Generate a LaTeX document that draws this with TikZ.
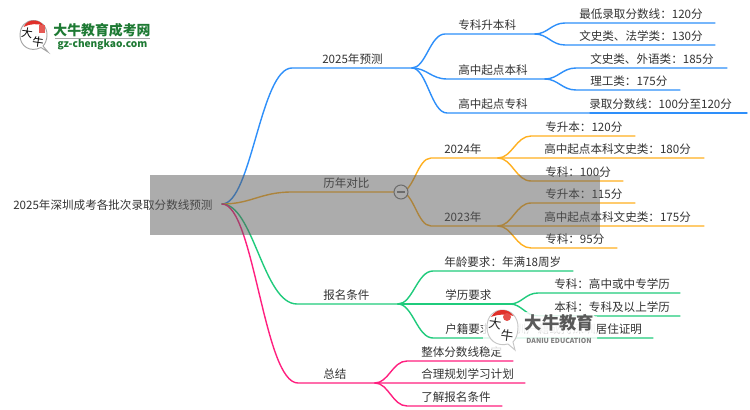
\documentclass[tikz,border=0pt]{standalone}
\usepackage{fontspec}
\usetikzlibrary{calc}
\setmainfont{Noto Sans CJK SC}
\definecolor{cblue}{HTML}{2E8FFA}
\definecolor{camber}{HTML}{FFB020}
\definecolor{cgreen}{HTML}{1FCB7C}
\definecolor{cpink}{HTML}{FF1F7F}
\definecolor{ctext}{HTML}{333333}
\definecolor{logogreen}{HTML}{1E7A34}
\definecolor{logored}{HTML}{E0302A}
\definecolor{bandgrey}{HTML}{5A5A5A}
\tikzset{
  lbl/.style={font=\fontsize{8.68pt}{10pt}\selectfont,text=ctext,inner sep=0pt,anchor=west},
  link/.style={line width=1.05pt,line cap=round},
  shade band/.style={fill=bandgrey,fill opacity=0.5,draw=none},
  foldmark/.style={circle,draw=gray,line width=0.8pt,fill=white,minimum size=10.5pt,inner sep=0pt},
  bubble/.style={draw=gray!70,line width=0.7pt,fill=white},
}
% name, parent, colour, x of bend, y of line, x of end, x of text, text
\newcommand\mmleaf[8]{%
  \coordinate (#1b) at (#4,#5);
  \coordinate (#1e) at (#6,#5);
  \node[lbl] (#1) at (#7,#5-9) {#8};
  \draw[link,#3] (#2) .. controls ($(#2)!.42!(#1b|-#2)$) and ($(#1b)!.45!(#2|-#1b)$) .. (#1b) -- (#1e);
}
\begin{document}
\begin{tikzpicture}[x=0.75pt,y=-0.75pt]
\useasboundingbox (0,0) rectangle (750,410);
\fill[white] (0,0) rectangle (750,410);
\node[lbl] (root) at (13,205) {2025年深圳成考各批次录取分数线预测};
\coordinate (rootj) at (222,204);
% 2025
\mmleaf{a}{rootj}{cblue}{292}{68}{412}{322}{2025年预测}
\coordinate (aj) at (ae);
\mmleaf{a1}{aj}{cblue}{445}{34}{535}{458}{专科升本科}
\mmleaf{a2}{aj}{cblue}{447}{79}{545}{458}{高中起点本科}
\mmleaf{a3}{aj}{cblue}{447}{113}{590}{458}{高中起点专科}
\mmleaf{a11}{a1e}{cblue}{565}{23}{715}{579}{最低录取分数线：120分}
\mmleaf{a12}{a1e}{cblue}{565}{45}{715}{579}{文史类、法学类：130分}
\mmleaf{a21}{a2e}{cblue}{576}{68}{727}{590}{文史类、外语类：185分}
\mmleaf{a22}{a2e}{cblue}{576}{90}{680}{590}{理工类：175分}
\node[lbl] (a31) at (589,104) {录取分数线：100分至120分};
\coordinate (a31e) at (747,113);
\draw[link,cblue] (a3e) -- (a31e);
% history
\mmleaf{b}{rootj}{camber}{292}{192}{401}{323}{历年对比}
\coordinate (bj) at (be);
\mmleaf{b1}{bj}{camber}{431}{158}{498}{444}{2024年}
\mmleaf{b2}{bj}{camber}{431}{226}{498}{444}{2023年}
\mmleaf{b11}{b1e}{camber}{531}{136}{635}{545}{专升本：120分}
\mmleaf{b12}{b1e}{camber}{531}{158}{704}{544}{高中起点本科文史类：180分}
\mmleaf{b13}{b1e}{camber}{531}{181}{623}{545}{专科：100分}
\mmleaf{b21}{b2e}{camber}{531}{203}{635}{545}{专升本：115分}
\mmleaf{b22}{b2e}{camber}{531}{226}{704}{544}{高中起点本科文史类：175分}
\mmleaf{b23}{b2e}{camber}{531}{248}{617}{545}{专科：95分}
\node[foldmark] (fold) at (bj) {};
\draw[gray,line width=0.8pt] ($(fold)+(-4,0)$) -- ($(fold)+(4,0)$);
% registration
\mmleaf{c}{rootj}{cgreen}{297}{304}{398}{323}{报名条件}
\coordinate (cj) at (ce);
\mmleaf{c1}{cj}{cgreen}{433}{271}{573}{444}{年龄要求：年满18周岁}
\mmleaf{c2}{cj}{cgreen}{433}{304}{510}{445}{学历要求}
\mmleaf{c3}{cj}{cgreen}{433}{338}{653}{445}{户籍要求：深圳户籍或持深圳居住证明}
\mmleaf{c21}{c2e}{cgreen}{538}{293}{680}{554}{专科：高中或中专学历}
\mmleaf{c22}{c2e}{cgreen}{538}{316}{680}{554}{本科：专科及以上学历}
% summary
\mmleaf{d}{rootj}{cpink}{298}{383}{375}{323}{总结}
\coordinate (dj) at (de);
\mmleaf{d1}{dj}{cpink}{407}{361}{513}{421}{整体分数线稳定}
\mmleaf{d2}{dj}{cpink}{407}{383}{525}{421}{合理规划学习计划}
\mmleaf{d3}{dj}{cpink}{407}{406}{502}{421}{了解报名条件}
% grey band over the map
\fill[shade band] (150,175) rectangle (600,235);
% top-left watermark
\draw[bubble] (48,52) -- (41,47.5) .. controls (30,53) and (20,46) .. (20,35.5) .. controls (20,26) and (26,20.5) .. (33.5,20.5) .. controls (41,20.5) and (47,26) .. (47,35) .. controls (47,40) and (45,44) .. (43,46) -- cycle;
\fill[logored] (23.5,27) .. controls (26,22) and (30,20.5) .. (33.5,20.5) .. controls (38,20.5) and (41,22) .. (43.5,25.5) .. controls (38,23.5) and (30,23.5) .. cycle;
\fill[logored!80!white] (39,25.5) rectangle (45,33);
\node[inner sep=0pt,font=\fontsize{8.5pt}{10pt}\selectfont,text=black,rotate=-8] (logoa) at (27,33) {大};
\node[inner sep=0pt,font=\fontsize{8.5pt}{10pt}\selectfont,text=black,rotate=-8] (logob) at (38,42) {牛};
\node[inner sep=0pt,anchor=center,font=\fontsize{10.4pt}{11pt}\selectfont\bfseries,text=logogreen] (brand) at (102,30) {大牛教育成考网};
\coordinate (rulea) at (55,38.5);
\coordinate (ruleb) at (150,38.5);
\draw[gray!70,line width=1pt] (rulea) -- (ruleb);
\node[inner sep=0pt,anchor=center,font=\fontsize{7.6pt}{9pt}\selectfont\bfseries,text=logogreen] (site) at (102.5,45) {gz-chengkao.com};
% bottom-right watermark
\fill[white,fill opacity=0.82,rounded corners=8pt] (483,312) rectangle (597,350);
\fill[white,fill opacity=0.6] (518,316) rectangle (597,332);
\draw[bubble,draw=gray!45] (515,350) -- (508,344) .. controls (497,347) and (487,340) .. (487,327) .. controls (487,316) and (494,310) .. (502.5,310) .. controls (511,310) and (518,317) .. (518,327) .. controls (518,334) and (516,339) .. (513,342) -- cycle;
\fill[logored] (491,317) .. controls (494,312) and (498,310) .. (502.5,310) .. controls (507,310) and (511,312) .. (513.5,316) .. controls (507,314) and (498,314) .. cycle;
\fill[logored!85!white] (507,317) circle (3pt);
\node[inner sep=0pt,font=\fontsize{9.5pt}{12pt}\selectfont,text=black!85,rotate=-8] (wma) at (495,324) {大};
\node[inner sep=0pt,font=\fontsize{9.5pt}{12pt}\selectfont,text=black!85,rotate=-8] (wmb) at (507,336) {牛};
\node[inner sep=0pt,anchor=center,font=\fontsize{13pt}{14pt}\selectfont\bfseries,text=black!65] (wmc) at (559.5,322.5) {大牛教育};
\node[inner sep=0pt,anchor=center,font=\fontsize{5.2pt}{7pt}\selectfont\bfseries,text=black!50] (wmd) at (559,341) {DANIU EDUCATION};
\end{tikzpicture}
\end{document}
